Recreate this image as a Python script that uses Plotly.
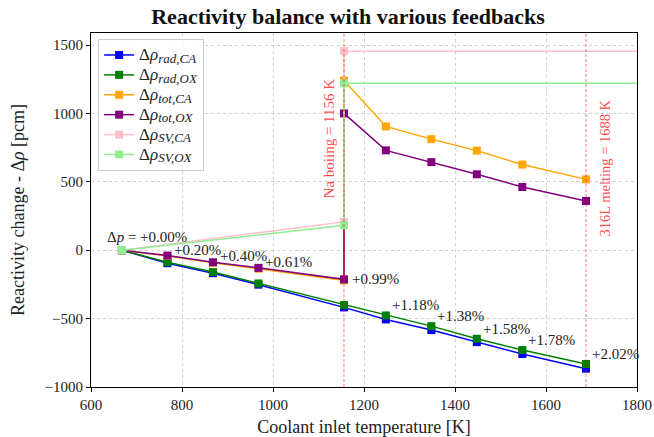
import plotly.graph_objects as go

# ---------------- data ----------------
T_rad = [668, 768, 868, 968, 1156, 1248, 1348, 1448, 1548, 1688]
rad_CA = [0, -95, -168, -252, -418, -506, -584, -672, -759, -866]
rad_OX = [0, -88, -160, -243, -401, -477, -555, -647, -730, -832]

T_tot = [668, 768, 868, 968, 1156, 1156, 1248, 1348, 1448, 1548, 1688]
tot_CA = [0, -42, -92, -135, -220, 1240, 905, 812, 728, 626, 518]
tot_OX = [0, -39, -88, -129, -213, 1000, 730, 644, 555, 462, 360]

T_sv = [668, 1156, 1156, 2000]
sv_CA = [0, 207, 1455, 1455]
sv_OX = [0, 182, 1220, 1220]

dp_labels = ["+0.00%", "+0.20%", "+0.40%", "+0.61%", "+0.99%",
             "+1.18%", "+1.38%", "+1.58%", "+1.78%", "+2.02%"]

T_boil = 1156
T_melt = 1688
boil_label = "Na boiing = 1156 K"
melt_label = "316L melting = 1688 K"

FONT = "Liberation Serif"

fig = go.Figure()

def sym(name):
    a, b = name.split("|")
    return ("<span style='font-size:17px'>Δ<i>ρ</i></span>"
            "<sub><span style='font-size:13px'><i>%s,%s</i></span></sub>" % (a, b))

series = [
    (T_rad, rad_CA, "rad|CA", "#0000ff"),
    (T_rad, rad_OX, "rad|OX", "#008000"),
    (T_tot, tot_CA, "tot|CA", "#ffa500"),
    (T_tot, tot_OX, "tot|OX", "#800080"),
    (T_sv, sv_CA, "SV|CA", "#ffc0cb"),
    (T_sv, sv_OX, "SV|OX", "#90ee90"),
]
for x, y, nm, c in series:
    fig.add_trace(go.Scatter(
        x=x, y=y, mode="lines+markers", name=sym(nm),
        line=dict(color=c, width=1.5),
        marker=dict(symbol="square", size=8, color=c),
    ))

# vertical reference lines
for xv in (T_boil, T_melt):
    fig.add_shape(type="line", x0=xv, x1=xv, xref="x", yref="paper", y0=0, y1=1,
                  line=dict(color="rgba(255,0,0,0.55)", width=1, dash="3px,2px"),
                  layer="above")

red_txt = "rgba(255,20,20,0.8)"
fig.add_annotation(x=T_boil, y=817, xref="x", yref="y", text=boil_label,
                   textangle=-90, showarrow=False, xshift=-15,
                   font=dict(family=FONT, size=15, color=red_txt))
fig.add_annotation(x=T_melt, y=598, xref="x", yref="y", text=melt_label,
                   textangle=-90, showarrow=False, xshift=19,
                   font=dict(family=FONT, size=14.5, color=red_txt))

# Δp annotations
afont = dict(family=FONT, size=15, color="#222")
fig.add_annotation(x=T_rad[0], y=rad_OX[0], text="Δ<i>p</i> = " + dp_labels[0],
                   showarrow=False, xanchor="left", yanchor="middle",
                   xshift=-17, yshift=13, font=afont)
for i in range(1, 4):
    fig.add_annotation(x=T_tot[i], y=tot_OX[i], text=dp_labels[i],
                       showarrow=False, xanchor="left", yanchor="middle",
                       xshift=5, yshift=6, font=afont)
fig.add_annotation(x=T_tot[4], y=tot_OX[4], text=dp_labels[4],
                   showarrow=False, xanchor="left", yanchor="middle",
                   xshift=6, yshift=0, font=afont)
for i in range(5, 10):
    fig.add_annotation(x=T_rad[i], y=rad_OX[i], text=dp_labels[i],
                       showarrow=False, xanchor="left", yanchor="middle",
                       xshift=4, yshift=10, font=afont)

axis_common = dict(
    showline=True, linecolor="black", linewidth=1, mirror=True,
    ticks="outside", ticklen=4, tickcolor="black",
    showgrid=True, gridcolor="rgba(190,190,190,0.7)", griddash="3px,3px", gridwidth=0.8,
    zeroline=False, automargin=False,
    tickfont=dict(family=FONT, size=15, color="#222"),
)

fig.update_layout(
    width=654, height=437,
    margin=dict(l=91, r=17, t=33, b=50),
    plot_bgcolor="white", paper_bgcolor="white",
    font=dict(family=FONT, color="#222"),
    title=dict(text="<b>Reactivity balance with various feedbacks</b>",
               x=348 / 654, xref="container", xanchor="center",
               y=1 - 16 / 437, yref="container", yanchor="middle",
               font=dict(family=FONT, size=22, color="#111")),
    xaxis=dict(range=[600, 1800], tickvals=[600, 800, 1000, 1200, 1400, 1600, 1800],
               title=dict(text="Coolant inlet temperature [K]", standoff=8,
                          font=dict(family=FONT, size=18)),
               **axis_common),
    yaxis=dict(range=[-1000, 1588], tickvals=[-1000, -500, 0, 500, 1000, 1500],
               title=dict(text="Reactivity change - Δ<i>ρ</i> [pcm]", standoff=15,
                          font=dict(family=FONT, size=18)),
               **axis_common),
    legend=dict(x=0.013, y=0.983, xanchor="left", yanchor="top",
                bgcolor="rgba(255,255,255,0.85)", bordercolor="#cccccc", borderwidth=1,
                font=dict(family=FONT, size=13, color="#222"), tracegroupgap=0),
    showlegend=True,
)

fig.write_html("out.html")
